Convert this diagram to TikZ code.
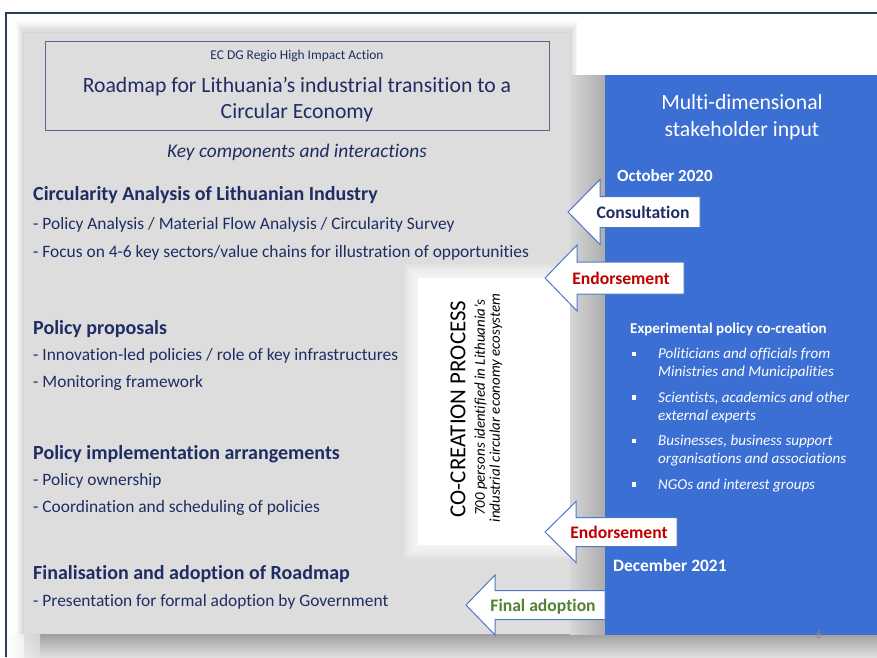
\documentclass[tikz,border=0pt]{standalone}
\usepackage{fontspec}
\setmainfont[Ligatures=NoCommon]{Carlito}
\definecolor{navytxt}{RGB}{32,44,100}
\definecolor{bluepanel}{RGB}{60,111,212}
\definecolor{titleline}{RGB}{84,106,140}
\definecolor{arrowblue}{RGB}{79,120,200}
\definecolor{framecol}{RGB}{45,60,90}
\definecolor{redtxt}{RGB}{192,0,0}
\definecolor{greentxt}{RGB}{84,130,53}
\definecolor{panelgray}{RGB}{221,221,221}
\definecolor{shadowdark}{RGB}{160,160,160}
\definecolor{shadowlight}{RGB}{222,222,222}
\definecolor{stripleft}{RGB}{214,214,214}
\definecolor{stripright}{RGB}{172,172,172}
\begin{document}
\begin{tikzpicture}[x=1pt,y=-1pt,
  tl/.style={anchor=base west, inner sep=0pt, text=navytxt},
  head/.style={tl, font=\fontsize{20}{24}\selectfont\bfseries},
  body/.style={tl, font=\fontsize{17.4}{21}\selectfont},
  wtxt/.style={anchor=base west, inner sep=0pt, text=white},
  bitem/.style={wtxt, font=\fontsize{15.1}{18}\selectfont\itshape},
  blockarrow/.style={fill=white, draw=arrowblue, line width=1pt, line join=miter},
  arrowlabel/.style={anchor=base, inner sep=0pt, font=\fontsize{17.6}{21}\selectfont\bfseries},
  bulletsq/.style={fill=white}
]
\useasboundingbox (0,0) rectangle (877,657);
\fill[white] (0,0) rectangle (877,657);

% soft shadow of the grey panel
\foreach \i in {1,...,10}
  \fill[black,opacity=0.014] (24-\i*0.8,33-\i*1.2) rectangle (570+\i*0.8,634+\i*0.5);
% bottom shadow
\shade[top color=shadowdark, bottom color=shadowlight] (24,634) rectangle (877,657);
\shade[left color=white, right color=shadowlight, opacity=0.8] (8,634) rectangle (40,657);

% grey panel
\fill[panelgray] (24,33) rectangle (570,634);

% co-creation white box with soft glow
\foreach \i in {14,12,...,2}
  \fill[white,opacity=0.16] (418-\i,278-\i) rectangle (572,545+\i);
\fill[white] (418,278) rectangle (572,545);

% shadow strip left of the blue panel
\shade[left color=stripleft, right color=stripright] (570,75) rectangle (605,634);

% blue panel
\fill[bluepanel] (605,75) rectangle (877,635);

% frame
\draw[framecol, line width=1.4pt] (6,657) -- (6,13) -- (877,13);

% title box
\draw[titleline, line width=1pt] (45,41) rectangle (549,130);
\node[anchor=base, inner sep=0pt, text=navytxt, font=\fontsize{13.4}{16}\selectfont] (ec) at (297,59) {EC DG Regio High Impact Action};
\node[anchor=base, inner sep=0pt, text=navytxt, font=\fontsize{21.7}{25}\selectfont] (t1) at (297,92) {Roadmap for Lithuania’s industrial transition to a};
\node[anchor=base, inner sep=0pt, text=navytxt, font=\fontsize{21.7}{25}\selectfont] (t2) at (297,118) {Circular Economy};
\node[anchor=base, inner sep=0pt, text=navytxt, font=\fontsize{19.4}{23}\selectfont\itshape] (kc) at (297,157) {Key components and interactions};

% left column
\node[head] (h1) at (33,200) {Circularity Analysis of Lithuanian Industry};
\node[body] (l11) at (33,229.5) {- Policy Analysis / Material Flow Analysis / Circularity Survey};
\node[body] (l12) at (33,257.5) {- Focus on 4-6 key sectors/value chains for illustration of opportunities};
\node[head] (h2) at (33,334) {Policy proposals};
\node[body] (l21) at (33,360.5) {- Innovation-led policies / role of key infrastructures};
\node[body] (l22) at (33,387.5) {- Monitoring framework};
\node[head] (h3) at (33,459) {Policy implementation arrangements};
\node[body] (l31) at (33,485.5) {- Policy ownership};
\node[body] (l32) at (33,512) {- Coordination and scheduling of policies};
\node[head] (h4) at (33,579) {Finalisation and adoption of Roadmap};
\node[body] (l41) at (33,606.5) {- Presentation for formal adoption by Government};

% co-creation text
\node[rotate=90, inner sep=0pt, font=\fontsize{22.9}{27}\selectfont] (cc) at (458,409) {CO-CREATION PROCESS};
\node[rotate=90, inner sep=0pt, font=\fontsize{14.9}{18}\selectfont\itshape] (cc1) at (481,408) {700 persons identified in Lithuania’s};
\node[rotate=90, inner sep=0pt, font=\fontsize{14.9}{18}\selectfont\itshape] (cc2) at (496,408) {industrial circular economy ecosystem};

% blue panel text
\node[anchor=base, inner sep=0pt, text=white, font=\fontsize{21.7}{26}\selectfont] (m1) at (742,109) {Multi-dimensional};
\node[anchor=base, inner sep=0pt, text=white, font=\fontsize{21.7}{26}\selectfont] (m2) at (742,136) {stakeholder input};
\node[wtxt, font=\fontsize{17}{20}\selectfont\bfseries] (oct) at (617,181.5) {October 2020};
\node[wtxt, font=\fontsize{15}{18}\selectfont\bfseries] (exp) at (630,333) {Experimental policy co-creation};
\node[bitem] (b1a) at (658,358.5) {Politicians and officials from};
\node[bitem] (b1b) at (658,376.5) {Ministries and Municipalities};
\node[bitem] (b2a) at (658,402) {Scientists, academics and other};
\node[bitem] (b2b) at (658,420) {external experts};
\node[bitem] (b3a) at (658,445.5) {Businesses, business support};
\node[bitem] (b3b) at (658,463.5) {organisations and associations};
\node[bitem] (b4a) at (658,489) {NGOs and interest groups};
\foreach \yy in {354,397.5,441,484.5}
  \fill[bulletsq] (632,\yy-2.2) rectangle (636.4,\yy+2.2);
\node[wtxt, font=\fontsize{17.4}{21}\selectfont\bfseries] (dec) at (613,571.5) {December 2021};
\node[inner sep=0pt, text=black!45, font=\fontsize{12}{14}\selectfont] (pg) at (819,634) {6};

% block arrows
\draw[blockarrow] (568,212) -- (600,179.5) -- (600,196.5) -- (700,196.5) -- (700,227.5) -- (600,227.5) -- (600,244.5) -- cycle;
\node[arrowlabel, text=navytxt] (consult) at (643,218) {Consultation};

\draw[blockarrow] (545,278) -- (577,245) -- (577,262) -- (684,262) -- (684,294) -- (577,294) -- (577,311) -- cycle;
\node[arrowlabel, text=redtxt] (endo1) at (621,284) {Endorsement};

\draw[blockarrow] (545,532) -- (576,501.5) -- (576,517.5) -- (677,517.5) -- (677,546.5) -- (576,546.5) -- (576,562.5) -- cycle;
\node[arrowlabel, text=redtxt] (endo2) at (619,538) {Endorsement};

\draw[blockarrow] (466,605) -- (495,575) -- (495,590.5) -- (605,590.5) -- (605,619.5) -- (495,619.5) -- (495,635) -- cycle;
\node[arrowlabel, text=greentxt] (final) at (543,611) {Final adoption};
\end{tikzpicture}
\end{document}
